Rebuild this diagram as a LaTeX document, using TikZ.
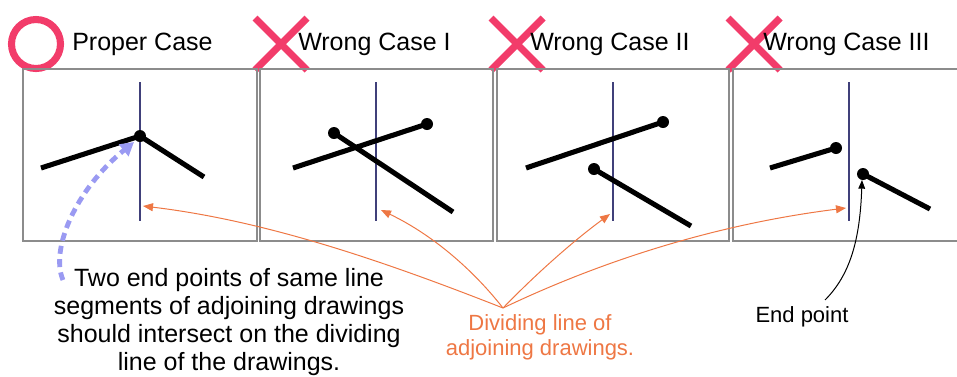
\documentclass[tikz,border=0pt]{standalone}
\usepackage{fontspec}
\setmainfont{Liberation Sans}
\usetikzlibrary{arrows.meta}
\definecolor{cmark}{HTML}{F23C6A}
\definecolor{cdiv}{HTML}{40407A}
\definecolor{cpanel}{HTML}{8C8C8C}
\definecolor{cnote}{HTML}{9A9AF2}
\definecolor{corange}{HTML}{EE7744}

\begin{document}
\begin{tikzpicture}[x=0.75pt, y=-0.75pt,
    panel/.style={draw=cpanel, line width=1.1pt},
    divline/.style={draw=cdiv, line width=0.9pt},
    seg/.style={line width=3.8pt},
    enddot/.style={fill=black},
    okmark/.style={draw=cmark, line width=5.3pt},
    ngmark/.style={draw=cmark, line width=5.3pt},
    title/.style={anchor=base west, inner sep=0pt, font=\fontsize{18.75pt}{22pt}\selectfont},
    note/.style={anchor=base, inner sep=0pt, align=center, font=\fontsize{18.75pt}{21pt}\selectfont},
    small/.style={anchor=base, inner sep=0pt, align=center, font=\fontsize{16.5pt}{18.75pt}\selectfont},
    notearr/.style={draw=cnote, line width=3.6pt, dash pattern=on 6pt off 4pt,
                    -{Triangle[length=10pt,width=11pt]}},
    orarr/.style={draw=corange, line width=0.75pt, -{Triangle[length=7.5pt,width=6pt]}},
    eparr/.style={draw=black, line width=0.75pt, -{Triangle[length=6.5pt,width=5pt]}}
]
\useasboundingbox (0,0) rectangle (957,376);

% marks and titles
\draw[okmark] (36,44) circle (24.5);
\foreach \cx in {281,517,754}
  \draw[ngmark] (\cx-26,18) -- (\cx+26,70) (\cx-26,70) -- (\cx+26,18);
\node[title] (t1) at (72,50) {Proper Case};
\node[title] (t2) at (298,50) {Wrong Case I};
\node[title] (t3) at (530,50) {Wrong Case II};
\node[title] (t4) at (763,50) {Wrong Case III};

% panels
\draw[panel] (23,69) rectangle (257,241);
\draw[panel] (260,69) rectangle (493,241);
\draw[panel] (497,69) rectangle (729,241);
\draw[panel] (957,69) -- (733,69) -- (733,241) -- (957,241);

% dividing lines
\foreach \dx in {140,376,613,849}
  \draw[divline] (\dx,82) -- (\dx,221);

% proper case
\draw[seg] (41,168) -- (140,136) -- (204,177);
\fill[enddot] (140,136) circle (6);
\coordinate (joint) at (134,142);

% wrong case I
\draw[seg] (293,168) -- (427,124);
\draw[seg] (334,133) -- (453,212);
\fill[enddot] (427,124) circle (6);
\fill[enddot] (334,133) circle (6);

% wrong case II
\draw[seg] (526,168) -- (663,122);
\draw[seg] (594,169) -- (691,226);
\fill[enddot] (663,122) circle (6);
\fill[enddot] (594,169) circle (6);

% wrong case III
\draw[seg] (770,168) -- (836,148);
\draw[seg] (863,174) -- (930,209);
\fill[enddot] (836,148) circle (6);
\fill[enddot] (863,174) circle (6);
\coordinate (epdot) at (862,180);

% notes (base = last line)
\node[note] (rule) at (229,370) {Two end points of same line\\segments of adjoining drawings\\should intersect on the dividing\\line of the drawings.};
\node[small, text=corange] (divtxt) at (540,355) {Dividing line of\\adjoining drawings.};
\node[small] (eptxt) at (802,322) {End point};

\coordinate (rulestart) at (63,280);
\coordinate (fan) at (503,308);
\coordinate (epstart) at (825,300);
\coordinate (d1) at (143,206);
\coordinate (d2) at (381,210);
\coordinate (d3) at (610,214);
\coordinate (d4) at (846,208);

\draw[notearr] (rulestart) .. controls (50,250) and (75,190) .. (joint);
\draw[orarr] (fan) .. controls (386,262) and (268,221) .. (d1);
\draw[orarr] (fan) .. controls (470,266) and (429,233) .. (d2);
\draw[orarr] (fan) .. controls (536,274) and (572,242) .. (d3);
\draw[orarr] (fan) .. controls (612,256) and (726,223) .. (d4);
\draw[eparr] (epstart) .. controls (850,275) and (860,240) .. (epdot);
\end{tikzpicture}
\end{document}
